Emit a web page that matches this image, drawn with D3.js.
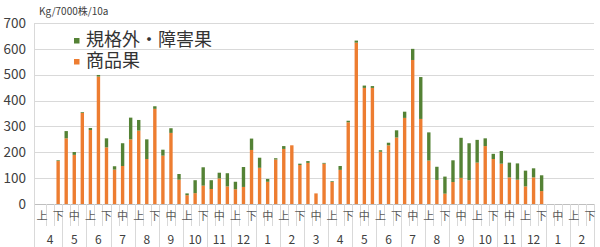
<!DOCTYPE html>
<html>
<head>
<meta charset="utf-8">
<script src="https://cdn.jsdelivr.net/npm/d3@7"></script>
<style>
  body { margin: 0; background: #fff; }
  svg { display: block; font-family: "Noto Sans CJK JP", "Noto Sans", sans-serif; }
</style>
</head>
<body>
<svg id="chart" width="600" height="247"></svg>
<script>
// months on the category axis (two seasons), each split into 上・中・下
var months = [4, 5, 6, 7, 8, 9, 10, 11, 12, 1, 2, 3, 4, 5, 6, 7, 8, 9, 10, 11, 12, 1, 2];
var periods = ['上', '中', '下'];

// 商品果 (orange) per 旬
var shohin = [
    0, 0, 166, 254, 190, 352, 286, 493, 219, 133, 147, 250,
    284, 174, 368, 187, 275, 94, 34, 42, 71, 58, 99, 68,
    57, 66, 209, 140, 86, 172, 213, 227, 151, 159, 41, 156,
    85, 132, 316, 624, 449, 449, 202, 227, 257, 333, 557, 329,
    168, 93, 40, 85, 101, 92, 160, 224, 174, 156, 103, 94,
    68, 103, 50, 0, 0, 0, 0, 0, 0
];
// 規格外・障害果 (green) per 旬
var kikakugai = [
    0, 0, 3, 28, 11, 3, 8, 6, 35, 13, 88, 84,
    41, 76, 10, 23, 18, 22, 7, 50, 71, 34, 22, 51,
    29, 77, 44, 39, 11, 5, 11, 0, 5, 7, 0, 3,
    3, 15, 6, 8, 9, 7, 6, 10, 28, 24, 43, 162,
    109, 51, 66, 84, 155, 143, 88, 30, 20, 49, 57, 63,
    61, 35, 61, 0, 0, 0, 0, 0, 0
];
var yTicks = [0, 100, 200, 300, 400, 500, 600, 700];

var legendItems = [
    { name: '規格外・障害果', color: '#548235' },
    { name: '商品果', color: '#ED7D31' }
];

function drawChart() {
    var categories = [];
    months.forEach(function (m, mi) {
        periods.forEach(function (p) {
            categories.push({ month: m, monthIndex: mi, period: p });
        });
    });

    var svg = d3.select('#chart');
    var gridLeft = 34, left = 38, right = 594, plotTop = 23, plotBottom = 204;

    var x = d3.scaleBand()
        .domain(d3.range(categories.length))
        .range([left, right])
        .paddingInner(0.58)
        .paddingOuter(0.29);
    var step = x.step();

    var y = d3.scaleLinear().domain([0, 700]).range([plotBottom, plotTop]);

    // gridlines
    svg.append('g').selectAll('line').data(yTicks).enter().append('line')
        .attr('x1', gridLeft).attr('x2', right)
        .attr('y1', function (d) { return Math.round(y(d)) + 0.5; })
        .attr('y2', function (d) { return Math.round(y(d)) + 0.5; })
        .attr('stroke', function (d) { return d === 0 ? '#bfbfbf' : '#d9d9d9'; })
        .attr('stroke-width', 1);

    // y tick labels
    svg.append('g').selectAll('text').data(yTicks).enter().append('text')
        .attr('x', 26)
        .attr('y', function (d) { return y(d); })
        .attr('dy', '0.35em')
        .attr('text-anchor', 'end')
        .attr('font-size', 13.5)
        .attr('fill', '#404040')
        .text(function (d) { return d; });

    svg.append('text')
        .attr('x', 39).attr('y', 15)
        .attr('font-size', 10)
        .attr('fill', '#404040')
        .text('Kg/7000株/10a');

    // left boundary line
    svg.append('line')
        .attr('x1', gridLeft + 0.5).attr('x2', gridLeft + 0.5)
        .attr('y1', plotTop).attr('y2', 247)
        .attr('stroke', '#d9d9d9');

    // category tick marks
    var ticks = d3.range(1, categories.length + 1);
    svg.append('g').selectAll('line').data(ticks).enter().append('line')
        .attr('x1', function (k) { return Math.round(left + k * step) + 0.5; })
        .attr('x2', function (k) { return Math.round(left + k * step) + 0.5; })
        .attr('y1', plotBottom)
        .attr('y2', function (k) { return k % 3 === 0 ? 247 : 226; })
        .attr('stroke', '#d9d9d9');

    // period labels (every other one, as in the original)
    svg.append('g').selectAll('text')
        .data(d3.range(0, categories.length, 2))
        .enter().append('text')
        .attr('x', function (i) { return x(i) + x.bandwidth() / 2; })
        .attr('y', 216)
        .attr('dy', '0.35em')
        .attr('text-anchor', 'middle')
        .attr('font-size', 11)
        .attr('fill', '#595959')
        .text(function (i) { return categories[i].period; });

    // month labels
    svg.append('g').selectAll('text').data(months).enter().append('text')
        .attr('x', function (m, mi) { return left + (mi * 3 + 1.5) * step; })
        .attr('y', 240)
        .attr('dy', '0.35em')
        .attr('text-anchor', 'middle')
        .attr('font-size', 12)
        .attr('fill', '#404040')
        .text(function (m) { return m; });

    // stacked bars
    var bars = svg.append('g');
    categories.forEach(function (c, i) {
        var o = shohin[i], g = kikakugai[i];
        if (o > 0) {
            bars.append('rect')
                .attr('x', x(i)).attr('width', x.bandwidth())
                .attr('y', y(o)).attr('height', y(0) - y(o))
                .attr('fill', '#ED7D31');
        }
        if (g > 0) {
            bars.append('rect')
                .attr('x', x(i)).attr('width', x.bandwidth())
                .attr('y', y(o + g)).attr('height', y(o) - y(o + g))
                .attr('fill', '#548235');
        }
    });

    // legend
    var legend = svg.append('g');
    legendItems.forEach(function (item, k) {
        var ly = 46 + k * 21;
        legend.append('rect')
            .attr('x', 74).attr('y', ly - 8).attr('width', 5.5).attr('height', 5.5)
            .attr('fill', item.color);
        legend.append('text')
            .attr('x', 86).attr('y', ly)
            .attr('font-size', 18)
            .attr('fill', '#333')
            .text(item.name);
    });
}

drawChart();
</script>
</body>
</html>
